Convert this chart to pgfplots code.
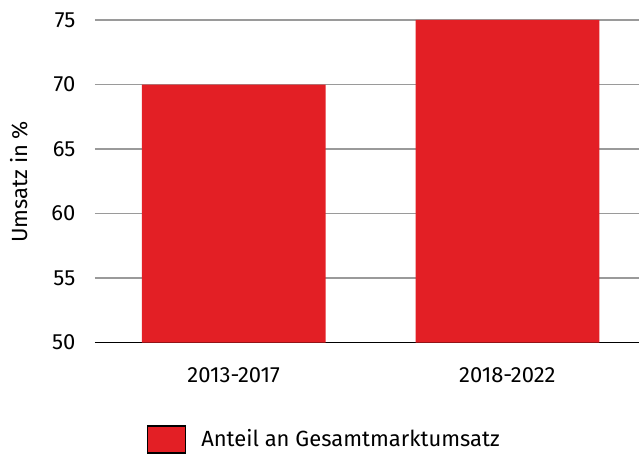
\documentclass[border=0pt]{standalone}
\usepackage{pgfplots}
\pgfplotsset{compat=1.18}
\usepackage{fontspec}
\setmainfont{Fira Sans}
\definecolor{barred}{HTML}{E31F25}
\definecolor{gridgray}{HTML}{9A9A9A}
\begin{document}
\fontsize{22}{26}\selectfont
\begin{tikzpicture}
\begin{axis}[
  scale only axis,
  width=545pt, height=323pt,
  xmin=-0.507, xmax=1.482,
  ymin=50, ymax=75,
  ytick={50,55,...,75},
  xtick=data,
  xticklabels={2013-2017,2018-2022},
  /pgf/number format/assume math mode=true,
  axis x line*=bottom,
  axis y line*=left,
  y axis line style={draw=none},
  x axis line style={black, line width=1.3pt},
  major tick length=0pt,
  ymajorgrids,
  grid style={gridgray, line width=1.3pt},
  yticklabel style={xshift=-12pt},
  xticklabel style={yshift=-17pt},
  ylabel={Umsatz in \%},
  ylabel style={at={(axis description cs:-0.1395,0.4985)}, anchor=center},
  ybar, bar width=184pt,
  legend style={at={(axis description cs:0.095,-0.30)}, anchor=west, draw=none, fill=none, inner sep=0pt, font=\fontsize{22}{26}\selectfont},
  legend cell align=left,
  legend image code/.code={\draw[fill=barred, draw=black, line width=1.5pt] (0pt,-13pt) rectangle (38pt,14pt);},
  /tikz/every even column/.append style={column sep=0pt},
]
\addplot[fill=barred, draw=none] coordinates {(0,70) (1,75)};
\addlegendentry{\hspace{13pt}Anteil an Gesamtmarktumsatz}
\end{axis}
\useasboundingbox (-95pt,-111pt) rectangle (545pt,343pt);
\end{tikzpicture}
\end{document}
